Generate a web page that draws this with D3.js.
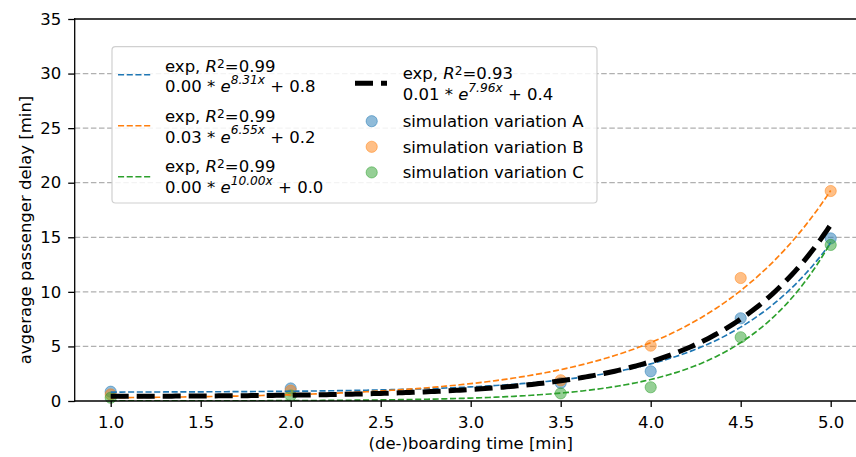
<!DOCTYPE html>
<html>
<head>
<meta charset="utf-8">
<script src="https://cdn.jsdelivr.net/npm/d3@7"></script>
<style>
  html, body { margin: 0; padding: 0; background: #fff; }
  svg { display: block; font-family: "DejaVu Sans", sans-serif; }
</style>
</head>
<body>
<svg id="chart" width="856" height="457"></svg>
<script>
// Measured (de-)boarding times and mean passenger delay per simulation variant
const boardingTimes = [1.0, 2.0, 3.5, 4.0, 4.5, 5.0];
const delayA = [0.85, 1.15, 1.65, 2.72, 7.58, 14.9];
const delayB = [0.6, 0.95, 1.9, 5.07, 11.27, 19.24];
const delayC = [0.3, 0.5, 0.7, 1.26, 5.84, 14.3];
const seriesNames = ["simulation variation A", "simulation variation B", "simulation variation C"];

// Exponential fits  a * e^(b * t) + c  with t = time / 5
const fitNames = ["A", "B", "C", "all"];
const fitA = [0.00337, 0.0273, 0.00066, 0.0055];
const fitB = [8.31, 6.55, 10.00, 7.96];
const fitC = [0.8, 0.2, 0.0, 0.4];
const fitR2 = ["0.99", "0.99", "0.99", "0.93"];
const fitALabel = ["0.00", "0.03", "0.00", "0.01"];
const fitBLabel = ["8.31", "6.55", "10.00", "7.96"];
const fitCLabel = ["0.8", "0.2", "0.0", "0.4"];

const xTicks = [1.0, 1.5, 2.0, 2.5, 3.0, 3.5, 4.0, 4.5, 5.0];
const yTicks = [0, 5, 10, 15, 20, 25, 30, 35];
const yGrid = [5, 10, 15, 20, 25, 30];

const colors = ["#1f77b4", "#ff7f0e", "#2ca02c", "#000000"];
const FS = 16.5;

const svg = d3.select("#chart");
const x = d3.scaleLinear().domain([0.8, 5.2]).range([74.7, 866.7]);
const y = d3.scaleLinear().domain([0, 35]).range([401, 19]);

// horizontal dashed grid
svg.append("g").selectAll("line").data(yGrid).join("line")
  .attr("x1", x(0.8)).attr("x2", x(5.2))
  .attr("y1", d => y(d)).attr("y2", d => y(d))
  .attr("stroke", "#b0b0b0").attr("stroke-width", 1.3)
  .attr("stroke-dasharray", "5.5,2.6");

// scatter of simulation results
const allSeries = [delayA, delayB, delayC];
allSeries.forEach((vals, i) => {
  svg.append("g").selectAll("circle").data(vals).join("circle")
    .attr("cx", (d, j) => x(boardingTimes[j]))
    .attr("cy", d => y(d))
    .attr("r", 5.6)
    .attr("fill", colors[i]).attr("fill-opacity", 0.5)
    .attr("stroke", colors[i]).attr("stroke-opacity", 0.5).attr("stroke-width", 1);
});

// fitted curves
const sampleX = d3.range(0, 201).map(k => 1 + 4 * k / 200);
const line = d3.line().x(d => x(d[0])).y(d => y(d[1]));
function fitPoints(i) {
  return sampleX.map(t => [t, fitA[i] * Math.exp(fitB[i] * t / 5) + fitC[i]]);
}
svg.append("clipPath").attr("id", "plotclip")
  .append("rect").attr("x", x(0.8)).attr("y", y(35)).attr("width", x(5.2) - x(0.8)).attr("height", y(0) - y(35));
const fits = svg.append("g").attr("clip-path", "url(#plotclip)");
[0, 1, 2, 3].forEach(i => {
  const black = i === 3;
  fits.append("path").datum(fitPoints(i))
    .attr("d", line).attr("fill", "none")
    .attr("stroke", colors[i])
    .attr("stroke-width", black ? 5 : 1.65)
    .attr("stroke-dasharray", black ? "18,8" : "6.1,2.6");
});

// axes
const xAxis = d3.axisBottom(x).tickValues(xTicks).tickFormat(d3.format(".1f"))
  .tickSize(6).tickSizeOuter(0).tickPadding(9);
const gx = svg.append("g").attr("transform", `translate(0,${y(0)})`).call(xAxis);
const yAxis = d3.axisLeft(y).tickValues(yTicks).tickFormat(d3.format("d"))
  .tickSize(6.5).tickSizeOuter(0).tickPadding(7);
const gy = svg.append("g").attr("transform", `translate(${x(0.8)},0)`).call(yAxis);
[gx, gy].forEach(g => {
  g.select(".domain").remove();
  g.selectAll(".tick line").attr("stroke", "#000").attr("stroke-width", 1.3);
  g.selectAll(".tick text").attr("fill", "#000").style("font-size", FS + "px")
    .style("font-family", "DejaVu Sans, sans-serif");
});

// spines
const spine = (x1, y1, x2, y2) => svg.append("line")
  .attr("x1", x1).attr("y1", y1).attr("x2", x2).attr("y2", y2)
  .attr("stroke", "#000").attr("stroke-width", 1.3).attr("stroke-linecap", "square");
spine(x(0.8), y(0), x(5.2), y(0));
spine(x(0.8), y(35), x(5.2), y(35));
spine(x(0.8), y(0), x(0.8), y(35));
spine(x(5.2), y(0), x(5.2), y(35));

// axis titles
svg.append("text").attr("x", 470.7).attr("y", 449).attr("text-anchor", "middle")
  .style("font-size", FS + "px").text("(de-)boarding time [min]");
svg.append("text").attr("transform", "translate(31,230) rotate(-90)").attr("text-anchor", "middle")
  .style("font-size", FS + "px").text("avgerage passenger delay [min]");

// legend
const lg = svg.append("g");
lg.append("rect").attr("x", 112).attr("y", 46.7).attr("width", 485).attr("height", 156.3)
  .attr("rx", 3.5).attr("fill", "#fff").attr("fill-opacity", 0.85)
  .attr("stroke", "#d0d0d0").attr("stroke-width", 1.2);

function fitLabel(g, i, tx, b1, b2) {
  const t1 = g.append("text").attr("x", tx).attr("y", b1).style("font-size", FS + "px");
  t1.append("tspan").text("exp, ");
  t1.append("tspan").style("font-style", "italic").text("R");
  t1.append("tspan").attr("dy", -4).style("font-size", (FS * 0.74) + "px").text("2");
  t1.append("tspan").attr("dy", 4).text("=" + fitR2[i]);
  const t2 = g.append("text").attr("x", tx).attr("y", b2).style("font-size", FS + "px");
  t2.append("tspan").text(fitALabel[i] + " * ");
  t2.append("tspan").style("font-style", "italic").text("e");
  t2.append("tspan").attr("dy", -8.3).style("font-size", (FS * 0.74) + "px").style("font-style", "italic")
    .text(fitBLabel[i] + "x");
  t2.append("tspan").attr("dy", 8.3).text(" + " + fitCLabel[i]);
}

[0, 1, 2].forEach(i => {
  const hy = 74.7 + 51 * i;
  lg.append("line").attr("x1", 118).attr("x2", 151).attr("y1", hy).attr("y2", hy)
    .attr("stroke", colors[i]).attr("stroke-width", 1.65).attr("stroke-dasharray", "6.1,2.6");
  fitLabel(lg, i, 165, 71.6 + 50.3 * i, 92.2 + 50.3 * i);
});
lg.append("line").attr("x1", 355).attr("x2", 387).attr("y1", 83.3).attr("y2", 83.3)
  .attr("stroke", "#000").attr("stroke-width", 5).attr("stroke-dasharray", "18,8");
fitLabel(lg, 3, 402.7, 78.5, 100);

seriesNames.forEach((name, i) => {
  const my = 121.2 + 25.6 * i;
  lg.append("circle").attr("cx", 371.7).attr("cy", my).attr("r", 5.6)
    .attr("fill", colors[i]).attr("fill-opacity", 0.5)
    .attr("stroke", colors[i]).attr("stroke-opacity", 0.5).attr("stroke-width", 1);
  lg.append("text").attr("x", 402.7).attr("y", my + 6).style("font-size", FS + "px").text(name);
});
</script>
</body>
</html>
